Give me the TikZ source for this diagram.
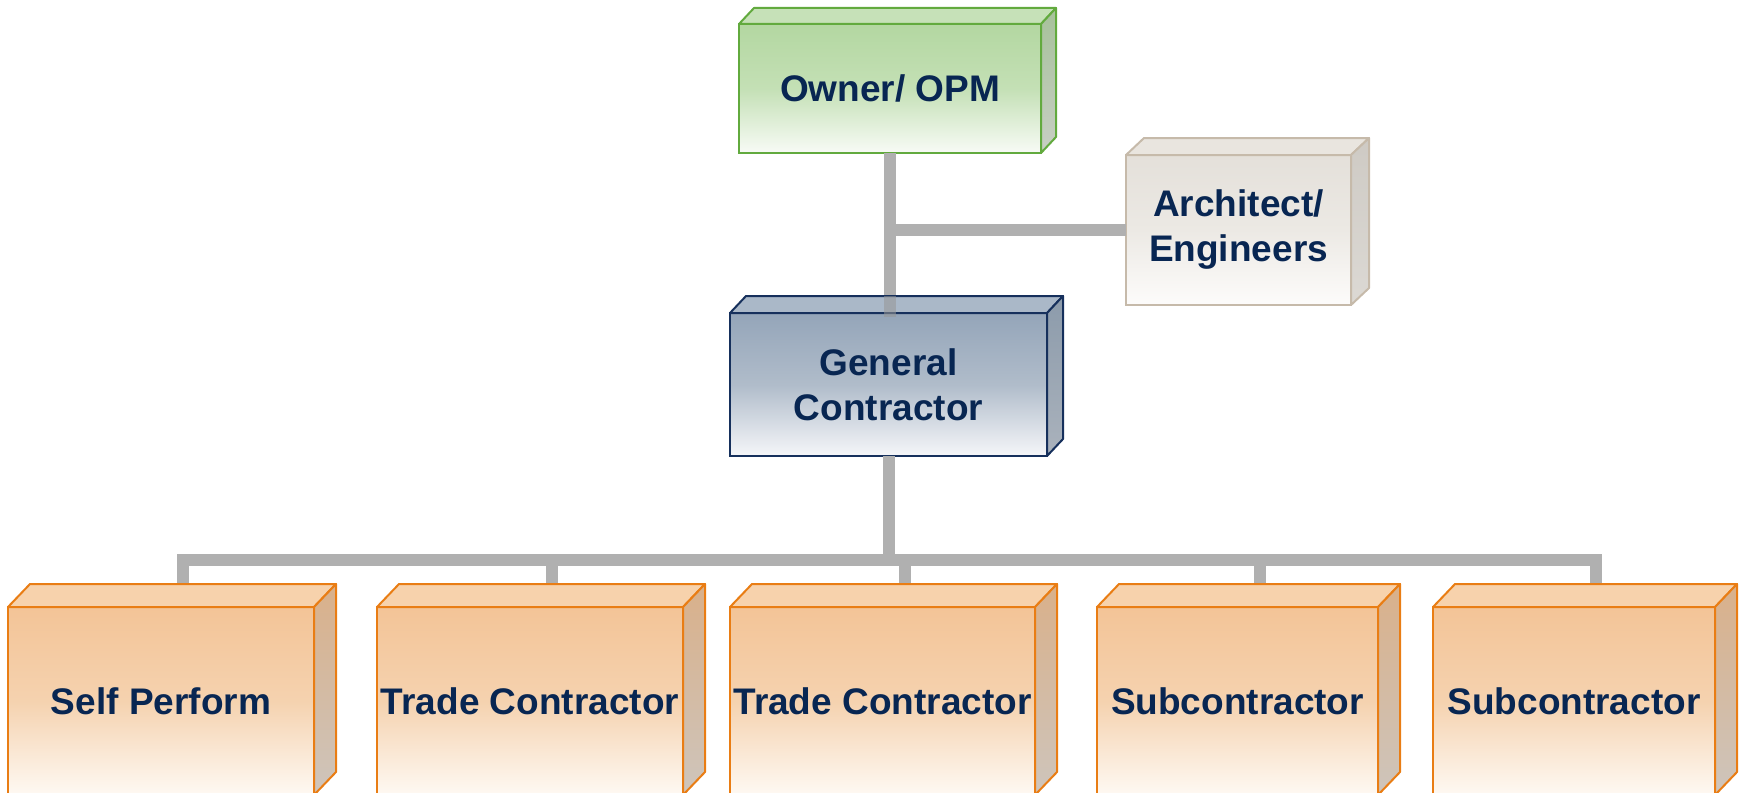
\documentclass[tikz,border=0pt]{standalone}
\usepackage{fontspec}
\setmainfont{Liberation Sans}
\definecolor{navy}{RGB}{8,38,82}
\definecolor{conngray}{RGB}{176,176,176}
% owner (green)
\definecolor{ownD}{RGB}{98,170,62}
\definecolor{ownA}{RGB}{179,215,161}
\definecolor{ownB}{RGB}{196,224,181}
\definecolor{ownC}{RGB}{248,251,246}
\definecolor{ownT}{RGB}{198,225,184}
\definecolor{ownS1}{RGB}{166,193,154}
\definecolor{ownS2}{RGB}{200,207,196}
% general contractor (blue grey)
\definecolor{gcD}{RGB}{22,48,92}
\definecolor{gcA}{RGB}{148,165,185}
\definecolor{gcB}{RGB}{176,188,202}
\definecolor{gcC}{RGB}{245,246,249}
\definecolor{gcT}{RGB}{170,184,200}
\definecolor{gcS1}{RGB}{140,155,171}
\definecolor{gcS2}{RGB}{170,178,188}
% architect (beige)
\definecolor{arD}{RGB}{198,186,170}
\definecolor{arA}{RGB}{228,224,218}
\definecolor{arB}{RGB}{236,233,228}
\definecolor{arC}{RGB}{253,252,251}
\definecolor{arT}{RGB}{233,229,223}
\definecolor{arS1}{RGB}{206,202,196}
\definecolor{arS2}{RGB}{220,217,212}
% orange
\definecolor{orD}{RGB}{233,125,20}
\definecolor{orA}{RGB}{243,196,151}
\definecolor{orB}{RGB}{245,210,175}
\definecolor{orC}{RGB}{254,249,243}
\definecolor{orT}{RGB}{247,210,172}
\definecolor{orS1}{RGB}{217,176,138}
\definecolor{orS2}{RGB}{206,197,188}
\tikzset{
  txt/.style={font=\bfseries\fontsize{18.5}{22.5}\selectfont, text=navy, align=center,
              inner sep=0pt, outer sep=0pt, line width=1pt},
  ownerfront/.style={txt, draw=ownD, top color=ownA, bottom color=ownC, middle color=ownB},
  ownertop/.style={fill=ownT, draw=ownD, line width=1pt, line join=round},
  ownerside/.style={top color=ownS1, bottom color=ownS2, draw=ownD, line width=1pt, line join=round},
  gcfront/.style={txt, draw=gcD, top color=gcA, bottom color=gcC, middle color=gcB},
  gctop/.style={fill=gcT, draw=gcD, line width=1pt, line join=round},
  gcside/.style={top color=gcS1, bottom color=gcS2, draw=gcD, line width=1pt, line join=round},
  archfront/.style={txt, draw=arD, top color=arA, bottom color=arC, middle color=arB},
  archtop/.style={fill=arT, draw=arD, line width=1pt, line join=round},
  archside/.style={top color=arS1, bottom color=arS2, draw=arD, line width=1pt, line join=round},
  orfront/.style={txt, draw=orD, top color=orA, bottom color=orC, middle color=orB,
                  minimum height=94pt},
  ortop/.style={fill=orT, draw=orD, line width=1pt, line join=round},
  orside/.style={top color=orS1, bottom color=orS2, draw=orD, line width=1pt, line join=round},
  conn/.style={draw=conngray, line width=6pt},
  connover/.style={draw=conngray!85!black, line width=6pt, opacity=0.55},
}
\newcommand{\boxfaces}[4]{%
  \path[#4top] (#1.north west) -- ++(#2,#3) -- ([shift={(#2,#3)}]#1.north east) -- (#1.north east) -- cycle;
  \path[#4side] (#1.north east) -- ++(#2,#3) -- ([shift={(#2,#3)}]#1.south east) -- (#1.south east) -- cycle;}
\begin{document}
\begin{tikzpicture}[x=0.5pt,y=-0.5pt]
\useasboundingbox (0,0) rectangle (1743,792);
\clip (0,0) rectangle (1743,792);
% front faces
\node[ownerfront, minimum width=151pt, minimum height=64.5pt] (owner) at (890,88.5) {Owner/ OPM};
\node[gcfront, minimum width=158.5pt, minimum height=71.5pt] (gc) at (888.5,384.5) {General\\Contractor};
\node[archfront, minimum width=112.5pt, minimum height=75pt] (arch) at (1238.5,230) {Architect/\\Engineers};
\node[orfront, minimum width=153pt] (sp) at (161,701) {Self Perform};
\node[orfront, minimum width=153pt] (tc1) at (530,701) {Trade Contractor};
\node[orfront, minimum width=152.5pt] (tc2) at (882.5,701) {Trade Contractor};
\node[orfront, minimum width=140.5pt] (sc1) at (1237.5,701) {Subcontractor};
\node[orfront, minimum width=141pt] (sc2) at (1574,701) {Subcontractor};
% connector points
\coordinate (gcback) at ([yshift=8.5pt]gc.north);
\coordinate (gctop) at ([yshift=-1.75pt]gc.north);
\coordinate (bus) at (888.5,560);
\coordinate (sptop) at ([shift={(22,-20)}]sp.north);
\coordinate (tc1top) at ([shift={(22,-20)}]tc1.north);
\coordinate (tc2top) at ([shift={(22,-20)}]tc2.north);
\coordinate (sc1top) at ([shift={(22,-20)}]sc1.north);
\coordinate (sc2top) at ([shift={(22,-20)}]sc2.north);
% connectors
\draw[conn] (owner.south) -- (owner.south |- gcback);
\draw[conn] (owner.south |- arch.west) -- (arch.west);
\draw[conn] (gc.south) -- (bus);
\draw[conn] (bus) -| (sptop);
\draw[conn] (bus) -| (tc1top);
\draw[conn] (bus) -| (tc2top);
\draw[conn] (bus) -| (sc1top);
\draw[conn] (bus) -| (sc2top);
% 3D faces
\boxfaces{owner}{15}{-16}{owner}
\boxfaces{gc}{16}{-17}{gc}
\boxfaces{arch}{18}{-17}{arch}
\boxfaces{sp}{22}{-23}{or}
\boxfaces{tc1}{22}{-23}{or}
\boxfaces{tc2}{22}{-23}{or}
\boxfaces{sc1}{22}{-23}{or}
\boxfaces{sc2}{22}{-23}{or}
% connector seen through the top face of the general contractor
\draw[connover] (owner.south |- gcback) -- (owner.south |- gctop);
\end{tikzpicture}
\end{document}
